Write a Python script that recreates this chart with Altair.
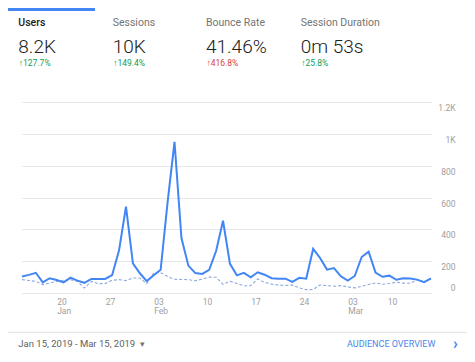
import altair as alt
import pandas as pd

# ---------------- data ----------------
dates = pd.date_range("2019-01-15", "2019-03-15", freq="D").strftime("%Y-%m-%d").tolist()
users = [104, 114, 127, 67, 93, 82, 67, 97, 78, 64,
         88, 88, 88, 112, 268, 542, 186, 124, 75, 112,
         146, 570, 950, 345, 172, 125, 120, 146, 264, 454,
         183, 111, 127, 99, 130, 115, 93, 90, 90, 70,
         95, 90, 277, 220, 147, 157, 105, 78, 107, 226,
         260, 128, 102, 109, 83, 92, 91, 84, 68, 92]
prev_users = [84, 79, 73, 52, 63, 73, 80, 84, 73, 31,
              73, 59, 59, 80, 84, 78, 94, 94, 59, 125,
              128, 104, 86, 85, 84, 77, 87, 100, 99, 54,
              74, 60, 46, 46, 88, 67, 56, 50, 48, 50,
              32, 21, 22, 51, 46, 42, 46, 38, 32, 42,
              53, 63, 55, 60, 68, 62, 61, 84, 70, 86]

tick_dates = ["2019-01-20", "2019-01-27", "2019-02-03", "2019-02-10",
              "2019-02-17", "2019-02-24", "2019-03-03", "2019-03-10"]
month_label_dates = ["2019-01-20", "2019-02-03", "2019-03-03"]
y_ticks = [0, 200, 400, 600, 800, 1000, 1200]

metric_names = ["Users", "Sessions", "Bounce Rate", "Session Duration"]
metric_values = ["8.2K", "10K", "41.46%", "0m 53s"]
metric_changes = ["127.7%", "149.4%", "416.8%", "25.8%"]
change_good = [True, True, False, True]
date_range_text = "Jan 15, 2019 - Mar 15, 2019"
link_text = "AUDIENCE OVERVIEW"

df = pd.DataFrame({
    "date": dates * 2,
    "value": users + prev_users,
    "series": ["current"] * len(dates) + ["previous"] * len(dates),
})

FONT = "Roboto"
BLUE = "#4285f4"


def dt(s):
    y, m, d = (int(p) for p in s.split("-"))
    return alt.DateTime(year=y, month=m, date=d, utc=True)


month_list = ",".join("'%s'" % d for d in month_label_dates)
x_enc = alt.X(
    "date:T",
    scale=alt.Scale(type="utc", domain=[dt(dates[0]), dt(dates[-1])]),
    axis=alt.Axis(
        values=[dt(d) for d in tick_dates],
        labelExpr="[utcFormat(datum.value, '%d'), indexof([" + month_list + "], utcFormat(datum.value, '%Y-%m-%d')) >= 0 ? utcFormat(datum.value, '%b') : '']",
        grid=False, domain=False, ticks=False,
        labelAlign="left", labelBaseline="top", labelPadding=4,
        labelFontSize=8.5, labelColor="#9e9e9e", labelFont=FONT,
        labelLineHeight=9, labelFlush=False, labelOverlap=False,
        labelOffset={"condition": {"test": "utcFormat(datum.value, '%Y-%m-%d') == '2019-03-10'", "value": -9}, "value": 0},
        title=None,
    ),
)
y_enc = alt.Y(
    "value:Q",
    scale=alt.Scale(domain=[0, 1200], nice=False),
    axis=alt.Axis(
        orient="right", values=y_ticks,
        labelExpr="datum.value >= 1000 ? format(datum.value / 1000, '.2~g') + 'K' : format(datum.value, 'd')",
        grid=True, gridColor="#e6e6e6", gridWidth=1,
        domain=False, ticks=False,
        labelAlign="right", labelPadding=24,
        labelFontSize=8.5, labelColor="#9e9e9e", labelFont=FONT,
        labelOffset={"condition": {"test": "datum.value == 0", "value": -5.5}, "value": 5.5},
        title=None,
    ),
)

prev_line = alt.Chart(df).transform_filter(alt.datum.series == "previous").mark_line(
    color="#8eaadc", strokeWidth=1.1, strokeDash=[3, 2]
).encode(x=x_enc, y=y_enc)

cur_line = alt.Chart(df).transform_filter(alt.datum.series == "current").mark_line(
    color=BLUE, strokeWidth=2
).encode(x=x_enc, y=y_enc)


def label(text, x, y, size, color, weight="normal", font=FONT, align="left"):
    return alt.Chart(pd.DataFrame({"t": [text]})).mark_text(
        align=align, baseline="alphabetic", fontSize=size, color=color,
        fontWeight=weight, font=font
    ).encode(x=alt.value(x), y=alt.value(y), text="t:N")


layers = [prev_line, cur_line]

# header
col_x = [-3.7, 90.7, 184, 278.7]
for i, name in enumerate(metric_names):
    layers.append(label(name, col_x[i], -76, 10.5,
                        "#212121" if i == 0 else "#757575",
                        weight=500 if i == 0 else "normal"))
    layers.append(label(metric_values[i], col_x[i], -48.7, 19, "#212121", weight=300))
    layers.append(label("\u2191" + metric_changes[i], col_x[i] + 0.5, -36, 8.5,
                        "#0f9d58" if change_good[i] else "#db4437"))

# tab indicator
layers.append(alt.Chart(pd.DataFrame({"a": [0]})).mark_rule(color=BLUE, strokeWidth=3).encode(
    x=alt.value(-14), x2=alt.value(73), y=alt.value(-92.5)))

# footer separator
layers.append(alt.Chart(pd.DataFrame({"a": [0]})).mark_rule(color="#e0e0e0", strokeWidth=1).encode(
    x=alt.value(-14), x2=alt.value(445), y=alt.value(230.3)))

# footer text
layers.append(label(date_range_text, -3.7, 244.5, 9.5, "#616161"))
layers.append(label("\u25be", 118, 245, 9, "#757575", font="DejaVu Sans"))
layers.append(label(link_text, 325, 244.5, 9, "#4a86e8"))
layers.append(label("\u203a", 431, 246.5, 16, "#4a86e8", weight="bold"))

chart = alt.layer(*layers).properties(
    width=409, height=191,
    padding={"left": 14, "top": 94, "right": 36, "bottom": 59},
    autosize=alt.AutoSizeParams(type="none"),
    background="white",
).configure_view(stroke=None)

chart.save("out.html", embed_options={"renderer": "svg", "actions": False})
